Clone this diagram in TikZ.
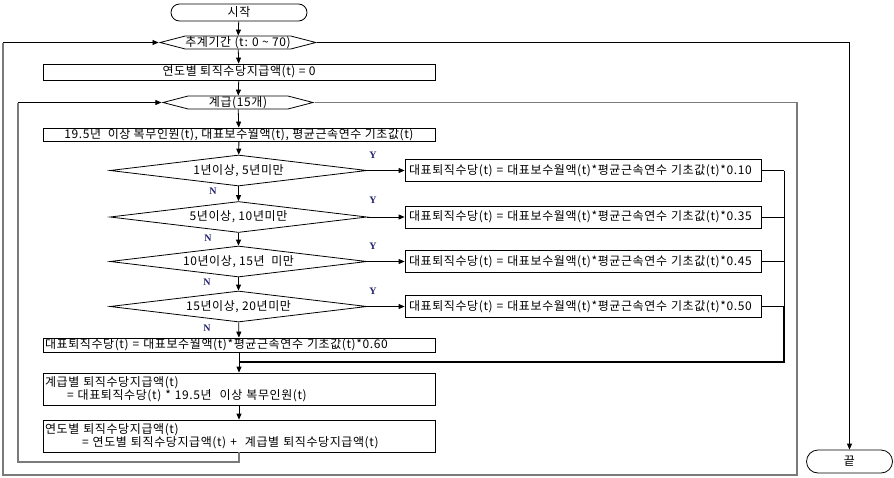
\documentclass[tikz,border=0pt]{standalone}
\usepackage{fontspec}
\setmainfont[LetterSpace=5]{Noto Sans CJK KR}
\newfontfamily\ynfont{Liberation Serif}
\usetikzlibrary{shapes.geometric,shapes.symbols,arrows.meta}
\definecolor{navycol}{HTML}{1F1F6B}
\definecolor{loopgray}{HTML}{7A7A7A}
\begin{document}
\begin{tikzpicture}[x=1pt,y=-1pt,
  font=\fontsize{12}{13}\selectfont,
  every node/.style={inner sep=0pt},
  box/.style={draw, line width=0.8pt, minimum width=392pt},
  rbox/.style={draw, line width=0.8pt, minimum width=356pt, minimum height=22pt, text width=348pt, align=left},
  term/.style={draw, line width=0.8pt, rounded corners=#1},
  hexa/.style={signal, signal to=west and east, draw, line width=0.8pt, minimum height=13pt, minimum width=150pt, signal pointer angle=29},
  dec/.style={diamond, draw, line width=0.8pt, minimum width=257pt, minimum height=31pt, aspect=8},
  arr/.style={-{Triangle[length=6pt,width=5pt]}, line width=0.8pt},
  gline/.style={draw=loopgray, line width=1.2pt},
  lab/.style={font=\ynfont\bfseries\fontsize{10}{10}\selectfont, text=navycol}]
\useasboundingbox (0,0) rectangle (894,477);

% nodes
\node[term=8.5pt, minimum width=136pt, minimum height=17pt] (start) at (239,12.5) {시작};
\node[hexa] (loop1) at (238,42.5) {추계기간 (t: 0 \textasciitilde\ 70)};
\node[box, minimum height=16pt] (b0) at (239,72) {연도별 퇴직수당지급액(t) = 0};
\node[hexa] (loop2) at (238,102.5) {계급(15개)};
\node[box, minimum height=13pt] (b1) at (239,134.5) {19.5년\ \ 이상 복무인원(t), 대표보수월액(t), 평균근속연수 기초값(t)};
\node[dec] (d1) at (238.5,170.5) {1년이상, 5년미만};
\node[dec] (d2) at (238.5,217) {5년이상, 10년미만};
\node[dec] (d3) at (238.5,261.5) {10년이상, 15년\ \ 미만};
\node[dec] (d4) at (238.5,306.5) {15년이상, 20년미만};
\node[rbox] (r1) at (583,170.5) {대표퇴직수당(t) = 대표보수월액(t)*평균근속연수 기초값(t)*0.10};
\node[rbox] (r2) at (583,217) {대표퇴직수당(t) = 대표보수월액(t)*평균근속연수 기초값(t)*0.35};
\node[rbox] (r3) at (583,261.5) {대표퇴직수당(t) = 대표보수월액(t)*평균근속연수 기초값(t)*0.45};
\node[rbox] (r4) at (583,306.5) {대표퇴직수당(t) = 대표보수월액(t)*평균근속연수 기초값(t)*0.50};
\node[box, minimum height=14pt, text width=388pt, align=left] (b6) at (239,345) {대표퇴직수당(t) = 대표보수월액(t)*평균근속연수 기초값(t)*0.60};
\node[box, minimum height=32pt, text width=388pt, align=left] (b7) at (239,389) {계급별 퇴직수당지급액(t)\\\hspace*{22pt}= 대표퇴직수당(t) * 19.5년\ \ 이상 복무인원(t)};
\node[box, minimum height=32pt, text width=388pt, align=left] (b8) at (239,436) {연도별 퇴직수당지급액(t)\\\hspace*{37pt}= 연도별 퇴직수당지급액(t) +\ \ 계급별 퇴직수당지급액(t)};
\node[term=11.5pt, minimum width=86pt, minimum height=23pt] (end) at (849.5,461.5) {끝};

% Y / N labels
\node[lab] (y1) at (373,155) {Y};
\node[lab] (y2) at (373,200) {Y};
\node[lab] (y3) at (373,246) {Y};
\node[lab] (y4) at (373,291) {Y};
\node[lab] (n1) at (213,191) {N};
\node[lab] (n2) at (208,238) {N};
\node[lab] (n3) at (207,282) {N};
\node[lab] (n4) at (207,328) {N};

% main flow
\draw[arr] (start) -- (loop1);
\draw[arr] (loop1) -- (b0);
\draw[arr] (b0) -- (loop2);
\draw[arr] (loop2) -- (b1);
\draw[arr] (b1) -- (d1);
\draw[arr] (d1) -- (d2);
\draw[arr] (d2) -- (d3);
\draw[arr] (d3) -- (d4);
\draw[arr] (d4) -- (b6);
\draw[arr] (b6.south) -- (b7.north);
\draw[arr] (b7) -- (b8);
\draw[arr] (d1.east) -- (r1.west);
\draw[arr] (d2.east) -- (r2.west);
\draw[arr] (d3.east) -- (r3.west);
\draw[arr] (d4.east) -- (r4.west);

% merge
\coordinate (mx) at (784,362);
\draw[line width=0.8pt] (r1.east) -- (r1.east -| mx);
\draw[line width=0.8pt] (r2.east) -- (r2.east -| mx);
\draw[line width=0.8pt] (r3.east) -- (r3.east -| mx);
\draw[line width=0.8pt] (r4.east) -- (r4.east -| mx);
\draw[line width=1pt] (r1.east -| mx) -- (r4.east -| mx);
\draw[line width=2.6pt] (r4.east -| mx) -- (mx) -- (mx -| b6.south);

% inner loop
\coordinate (iB) at (239,462);
\coordinate (iL) at (18,462);
\draw[gline] (b8.south) -- (iB) -- (iL) -- (iL |- loop2.west);
\draw[arr] (iL |- loop2.west) -- (loop2.west);

% outer loop
\coordinate (oR) at (797,475);
\coordinate (oL) at (3,475);
\draw[gline] (loop2.east) -| (oR) -- (oL) -- (oL |- loop1.west);
\draw[arr] (oL |- loop1.west) -- (loop1.west);

% exit
\draw[arr] (loop1.east) -| (end.north);
\end{tikzpicture}
\end{document}
